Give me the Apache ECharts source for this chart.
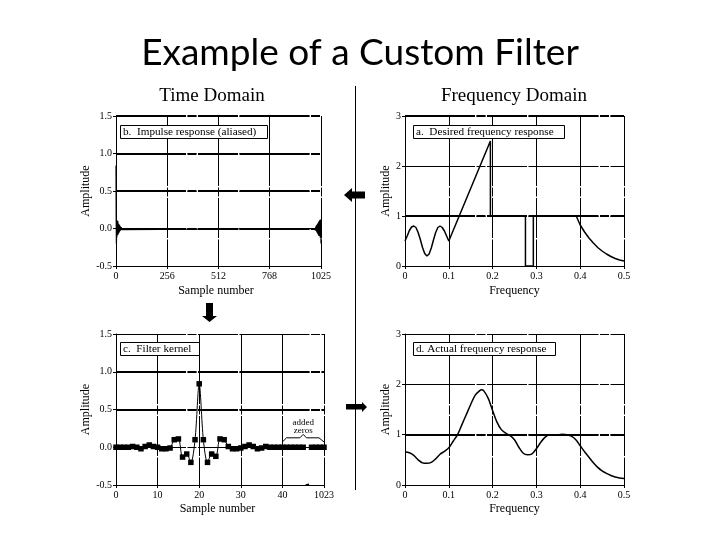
<!DOCTYPE html>
<html lang="en">
<head>
<meta charset="UTF-8">
<title>Example of a Custom Filter</title>
<script src="https://cdn.jsdelivr.net/npm/echarts@6/dist/echarts.min.js"></script>
<style>
    html, body { margin: 0; padding: 0; width: 100%; height: 100%; background: #fff; }
    #main { width: 720px; height: 540px; }
</style>
</head>
<body>
<div id="main"></div>
<script>
// panel a: desired frequency response
var freqA = [0,.005,.01,.015,.02,.025,.03,.035,.04,.045,.05,.055,.06,.065,.07,.075,.08,.085,.09,.095,.1,
    .195,.195,.275,.275,.293,.293,.391,.4,.41,.42,.43,.44,.45,.46,.47,.48,.49,.5];
var ampA = [.5,.6,.71,.78,.8,.77,.67,.53,.37,.25,.2,.24,.36,.52,.67,.77,.8,.77,.7,.6,.5,
    2.5,1,1,0,0,1,1,.82,.68,.56,.46,.37,.3,.24,.19,.15,.12,.1];

// panel b: impulse response, ringing at both ends of the buffer
var impulseStart = [.84,.1,-.2,-.09,-.12,.11,.1,.03,-.09,.1,-.08,.07,-.07,.06,-.06,.05,-.05,.05,-.04,.04,
    -.03,.03,-.03,.02,-.02,.02,-.02,.015,-.015,.01,-.01,.01,-.01,.008,-.008,.006,-.006,.005,-.005,0];
var impulseEnd = [0,-.005,.006,-.007,.008,-.01,.01,-.012,.015,-.015,.02,-.02,.02,-.03,.03,-.03,.04,-.04,.05,-.05,
    .05,-.06,.06,-.07,.07,-.08,.08,-.09,.09,-.1,.1,-.1,.11,-.09,.1,-.12,.12,-.09,.1,-.2];
var xTicksB = [0, 256, 512, 768, 1025];

// panel c: filter kernel, sample 46 is the axis break
var kernel = [0,0,0,0,.01,0,-.02,.01,.03,.01,0,-.02,-.02,-.01,.1,.11,-.13,-.09,-.2,.1,.84,.1,-.2,-.09,-.12,.11,.1,.01,-.02,-.02,
    -.01,.01,.03,.01,-.02,-.01,.01,0,0,0,0,0,0,0,0,0,null,0,0,0,0];
var xLabelsC = ['0', '10', '20', '30', '40', '1023'];
var braceX = [40, 41, 44.2, 45, 45.8, 48.8, 50];
var braceY = [.07, .125, .125, .17, .125, .125, .07];
var breakX = [45.6, 46.4];
var breakY = [-.5, -.49];

// panel d: actual frequency response
var freqD = [0,.01,.02,.03,.04,.05,.06,.07,.08,.09,.1,.11,.12,.13,.14,.15,.16,.17,.175,.18,.19,.2,.21,.22,.23,.24,.25,
    .26,.27,.28,.29,.3,.31,.32,.33,.34,.35,.36,.37,.38,.39,.4,.41,.42,.43,.44,.45,.46,.47,.48,.49,.5];
var ampD = [.66,.64,.59,.5,.44,.43,.45,.52,.61,.67,.74,.87,1,1.2,1.4,1.6,1.78,1.87,1.89,1.87,1.72,1.48,1.25,1.1,1.03,.98,.9,
    .75,.63,.6,.62,.72,.85,.95,1,1,1,1.01,1,.97,.9,.78,.66,.55,.44,.35,.28,.23,.19,.16,.14,.13];

// heavy horizontal rules of each panel
var heavyA = [3, 1];
var heavyB = [1.5, 1, .5, 0];
var heavyC = [1, .5];
var heavyD = [1];

var serif = '"Liberation Serif", serif';
var gridDash = [70, 1.5, 9, 1.5, 40, 1.5];

function zip(xs, ys) {
    return xs.map(function (x, i) { return [x, ys[i]]; });
}

function heavy(values) {
    return {
        silent: true,
        symbol: 'none',
        animation: false,
        label: { show: false },
        lineStyle: { color: '#000', width: 2, type: gridDash },
        data: values.map(function (v) { return { yAxis: v }; })
    };
}

function xAxis(grid, min, max, name, labelExtra, extra) {
    return Object.assign({
        type: 'value', gridIndex: grid, min: min, max: max,
        name: name, nameLocation: 'middle', nameGap: grid > 1 ? 18 : 19,
        nameTextStyle: { fontFamily: serif, fontSize: 12, color: '#000', padding: name === 'Frequency' ? 0 : [0, 5, 0, 0] },
        axisLine: { onZero: false, lineStyle: { color: '#000' } },
        axisTick: { show: true, length: 3, lineStyle: { color: '#000' } },
        axisLabel: Object.assign({ fontFamily: serif, fontSize: 10, color: '#000', margin: 5 }, labelExtra),
        splitLine: { show: true, lineStyle: { color: '#000', width: 1, type: gridDash } }
    }, extra);
}

function yAxis(grid, min, max, interval, digits, gap) {
    return {
        type: 'value', gridIndex: grid, min: min, max: max, interval: interval,
        name: 'Amplitude', nameLocation: 'middle', nameGap: gap,
        nameTextStyle: { fontFamily: serif, fontSize: 12, color: '#000' },
        axisLine: { onZero: false, lineStyle: { color: '#000' } },
        axisTick: { show: true, length: 3, lineStyle: { color: '#000' } },
        axisLabel: { fontFamily: serif, fontSize: 10, color: '#000', margin: 4,
            formatter: function (v) { return v.toFixed(digits); } },
        splitLine: { show: true, lineStyle: { color: '#000', width: 1, type: gridDash } }
    };
}

function freqLabel(v) {
    return v === 0 ? '0' : v.toFixed(1);
}

function panelBox(text, left, top, rightPad) {
    return {
        text: text, left: left, top: top, z: 10,
        backgroundColor: '#fff', borderColor: '#000', borderWidth: 1,
        padding: [1, rightPad, 1, 3],
        textStyle: { fontFamily: serif, fontSize: 11.2, fontWeight: 'normal', color: '#000', lineHeight: 12 }
    };
}

function heading(text, x, y, size, font) {
    return {
        type: 'text', x: x, y: y,
        style: { text: text, font: size + 'px ' + font, fill: '#000', textAlign: 'center', textVerticalAlign: 'middle' }
    };
}

var impulseData = [];
impulseStart.forEach(function (v, i) { impulseData.push([i, v]); });
impulseEnd.forEach(function (v, i) { impulseData.push([986 + i, v]); });

var kernelData = kernel.map(function (v, i) { return [i, v]; });
var braceData = zip(braceX, braceY);
braceData[3] = {
    value: braceData[3],
    label: {
        show: true, position: 'top', distance: 0, formatter: 'added\nzeros',
        fontFamily: serif, fontSize: 9, lineHeight: 8, color: '#000'
    }
};

var chart = echarts.init(document.getElementById('main'), null, { renderer: 'canvas' });
chart.setOption({
    animation: false,
    backgroundColor: '#fff',
    title: [
        panelBox('b.  Impulse response (aliased)', 120, 125, 11),
        panelBox('a.  Desired frequency response', 413, 125, 11),
        panelBox('c.  Filter kernel', 120, 342, 8),
        panelBox('d. Actual frequency response', 413, 342, 9)
    ],
    grid: [
        { left: 116, top: 116, width: 205, height: 150 },
        { left: 405, top: 116, width: 219, height: 150 },
        { left: 116, top: 334, width: 208, height: 151 },
        { left: 405, top: 334, width: 219, height: 151 }
    ],
    xAxis: [
        xAxis(0, 0, 1025, 'Sample number', { customValues: xTicksB, formatter: function (v) { return String(v); } },
            { axisTick: { show: true, length: 3, customValues: xTicksB, lineStyle: { color: '#000' } } }),
        xAxis(1, 0, .5, 'Frequency', { formatter: freqLabel }, { interval: .1 }),
        xAxis(2, 0, 50, 'Sample number', { formatter: function (v) { return xLabelsC[v / 10]; } }, { interval: 10 }),
        xAxis(3, 0, .5, 'Frequency', { formatter: freqLabel }, { interval: .1 })
    ],
    yAxis: [
        yAxis(0, -.5, 1.5, .5, 1, 24),
        // the scan blurs the 3 into a 5, but the scale is linear 0,1,2,3
        yAxis(1, 0, 3, 1, 0, 11),
        yAxis(2, -.5, 1.5, .5, 1, 24),
        yAxis(3, 0, 3, 1, 0, 11)
    ],
    series: [
        { type: 'line', xAxisIndex: 0, yAxisIndex: 0, data: impulseData, showSymbol: false, sampling: 'none', clip: false,
          lineStyle: { color: '#000', width: 1.2 }, markLine: heavy(heavyB) },
        { type: 'line', xAxisIndex: 1, yAxisIndex: 1, data: zip(freqA, ampA), showSymbol: false,
          lineStyle: { color: '#000', width: 1.5 }, markLine: heavy(heavyA) },
        { type: 'line', xAxisIndex: 2, yAxisIndex: 2, data: kernelData, smooth: .3, connectNulls: false,
          symbol: 'rect', symbolSize: 5.5, showAllSymbol: true, clip: false,
          itemStyle: { color: '#000' }, lineStyle: { color: '#000', width: 1 }, markLine: heavy(heavyC) },
        { type: 'line', xAxisIndex: 2, yAxisIndex: 2, data: braceData, symbol: 'circle', symbolSize: 0, showAllSymbol: true, silent: true,
          lineStyle: { color: '#000', width: 1 } },
        { type: 'line', xAxisIndex: 2, yAxisIndex: 2, data: zip(breakX, breakY), symbol: 'none', silent: true,
          lineStyle: { color: '#000', width: 1.5 } },
        { type: 'line', xAxisIndex: 3, yAxisIndex: 3, data: zip(freqD, ampD), showSymbol: false, smooth: .3,
          lineStyle: { color: '#000', width: 1.5 }, markLine: heavy(heavyD) }
    ],
    graphic: [
        heading('Example of a Custom Filter', 360, 53, 37, 'Lato, sans-serif'),
        heading('Time Domain', 212, 96, 19, serif),
        heading('Frequency Domain', 514, 96, 19, serif),
        { type: 'line', shape: { x1: 355.5, y1: 86, x2: 355.5, y2: 490 }, style: { stroke: '#000', lineWidth: 1 } },
        // flow arrows between the panels
        { type: 'polygon', shape: { points: [[344, 195], [352, 188], [352, 191.5], [365, 191.5], [365, 198.5], [352, 198.5], [352, 202]] }, style: { fill: '#000' } },
        { type: 'polygon', shape: { points: [[206, 303], [213, 303], [213, 316], [217, 316], [209.5, 322], [202, 316], [206, 316]] }, style: { fill: '#000' } },
        { type: 'polygon', shape: { points: [[346, 404], [362, 404], [362, 402], [367, 407], [362, 412], [362, 409.5], [346, 409.5]] }, style: { fill: '#000' } }
    ]
});
</script>
</body>
</html>
